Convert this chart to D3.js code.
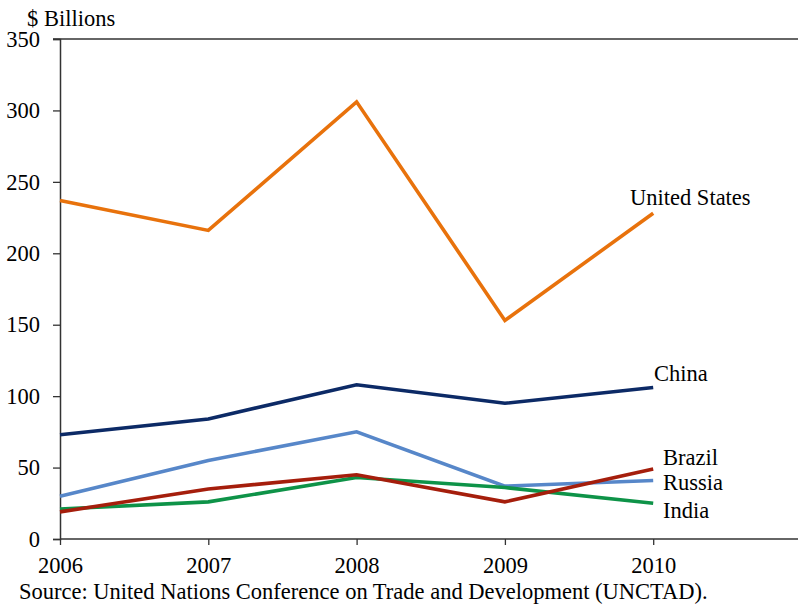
<!DOCTYPE html>
<html>
<head>
<meta charset="utf-8">
<script src="https://cdn.jsdelivr.net/npm/d3@7"></script>
<style>
  html, body { margin: 0; padding: 0; background: #fff; }
  svg { display: block; }
  svg text { font-family: "Times New Roman", "Liberation Serif", "DejaVu Serif", serif !important; fill: #000; }
</style>
</head>
<body>
<svg id="chart" width="798" height="606"></svg>
<script>
const years = [2006, 2007, 2008, 2009, 2010];
const unitedStates = [237, 216, 306, 153, 228];
const china = [73, 84, 108, 95, 106];
const russia = [30, 55, 75, 37, 41];
const brazil = [19, 35, 45, 26, 49];
const india = [21, 26, 43, 36, 25];
const yTicks = [0, 50, 100, 150, 200, 250, 300, 350];
const seriesNames = ["United States", "China", "Russia", "Brazil", "India"];
const seriesValues = [unitedStates, china, russia, brazil, india];
const seriesColors = ["#E8720C", "#0C2A66", "#5787C9", "#A51E0C", "#0E9348"];
const labelDy = [-8, -7, 9.5, -4, 15];
const FS = "22.5px";

const svg = d3.select("#chart");
const m = { left: 60, right: 798, top: 39, bottom: 539 };

const x = d3.scaleLinear().domain([2006, 2011]).range([m.left, m.left + 148.3 * 5]);
const y = d3.scaleLinear().domain([0, 350]).range([m.bottom, m.top]);

// top border line
svg.append("line")
  .attr("x1", m.left - 7).attr("x2", m.right)
  .attr("y1", y(350)).attr("y2", y(350))
  .attr("stroke", "#333").attr("stroke-width", 1.5);

// y axis
const yAxis = svg.append("g").attr("transform", `translate(${m.left},0)`)
  .call(d3.axisLeft(y).tickValues(yTicks).tickSize(7).tickPadding(13).tickFormat(d3.format("d")));
yAxis.select(".domain").attr("stroke", "#333").attr("stroke-width", 1.5);
yAxis.selectAll(".tick line").attr("stroke", "#333").attr("stroke-width", 1.3);
yAxis.selectAll(".tick text").style("font-size", FS).attr("fill", "#000");

// x axis
const xAxis = svg.append("g").attr("transform", `translate(0,${m.bottom})`)
  .call(d3.axisBottom(x).tickValues(years).tickSize(6).tickPadding(12).tickFormat(d3.format("d")));
xAxis.select(".domain").remove();
xAxis.append("line").attr("x1", m.left).attr("x2", m.right).attr("y1", 0).attr("y2", 0)
  .attr("stroke", "#333").attr("stroke-width", 1.5);
xAxis.selectAll(".tick line").attr("stroke", "#333").attr("stroke-width", 1.3);
xAxis.selectAll(".tick text").style("font-size", FS).attr("fill", "#000");

// y axis title
svg.append("text").attr("x", 27).attr("y", 26).style("font-size", FS).text("$ Billions");

// lines
const line = d3.line().x((d, i) => x(years[i])).y(d => y(d));
const order = [0, 1, 2, 4, 3];
order.forEach(k => {
  svg.append("path")
    .datum(seriesValues[k])
    .attr("fill", "none")
    .attr("stroke", seriesColors[k])
    .attr("stroke-width", 3.6)
    .attr("stroke-linejoin", "miter")
    .attr("d", line);
});

// labels
const labelX = [630, 654, 663, 663, 663];
seriesNames.forEach((name, k) => {
  const last = seriesValues[k][seriesValues[k].length - 1];
  svg.append("text")
    .attr("x", labelX[k])
    .attr("y", y(last) + labelDy[k])
    .style("font-size", FS)
    .text(name);
});

// source
svg.append("text").attr("x", 19).attr("y", 599).style("font-size", FS)
  .text("Source: United Nations Conference on Trade and Development (UNCTAD).");
</script>
</body>
</html>
